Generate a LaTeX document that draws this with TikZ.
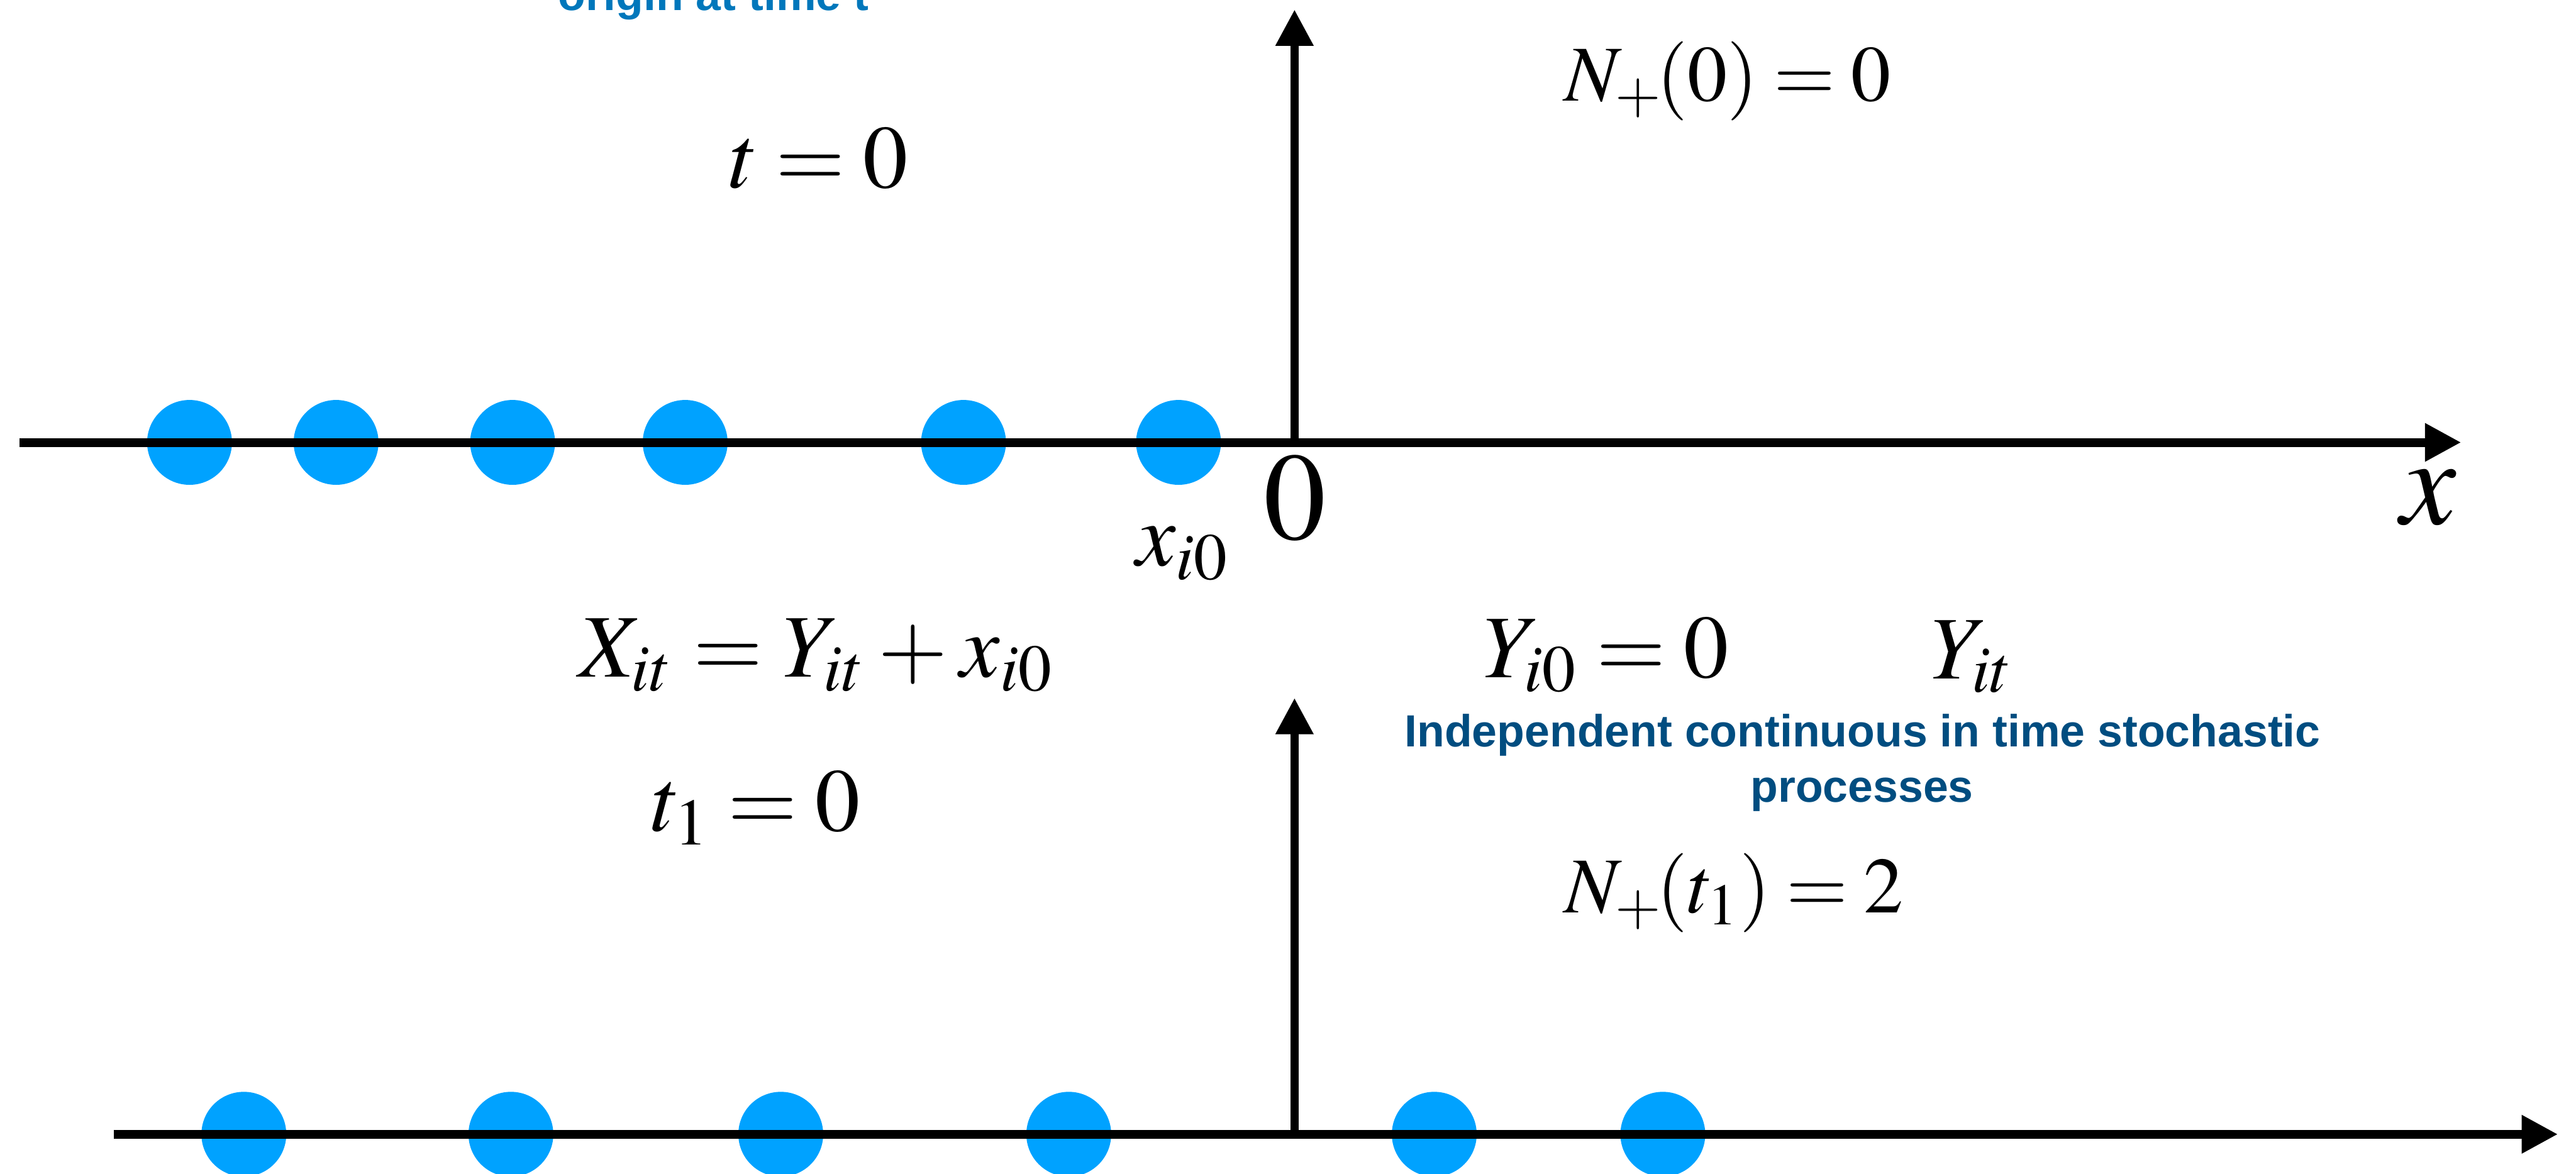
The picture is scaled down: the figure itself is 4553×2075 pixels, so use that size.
\documentclass[tikz,border=0pt]{standalone}
\usepackage{mathptmx}
\usepackage[no-math]{fontspec}
\newfontfamily\lsans{Liberation Sans}
\usetikzlibrary{arrows.meta}
\definecolor{dotblue}{HTML}{00A2FF}
\definecolor{topblue}{HTML}{0077BB}
\definecolor{darkblue}{HTML}{004D80}
\newcommand{\tightrel}{\thickmuskip=3.6mu plus 2mu}
\begin{document}
\begin{tikzpicture}[x=0.1pt,y=-0.1pt,
  dot/.style={circle, fill=dotblue, draw=none, minimum size=15pt, inner sep=0pt},
  haxis/.style={line width=1.55pt, -{Triangle[length=6.4pt,width=6.4pt]}},
  vaxis/.style={line width=1.4pt, -{Triangle[length=6.4pt,width=6.4pt]}},
  lbl/.style={inner sep=0pt, anchor=base west},
  mathM/.style={lbl, font=\fontsize{15.8}{19}\selectfont},
  mathT/.style={lbl, font=\fontsize{15.8}{19}\selectfont\tightrel},
  mathN/.style={lbl, font=\fontsize{14}{17}\selectfont\tightrel},
  bigl/.style={lbl, font=\fontsize{22}{26}\selectfont},
  bluetext/.style={inner sep=0pt, anchor=base, text=darkblue, font=\lsans\bfseries\fontsize{7.96}{9.8}\selectfont},
  toptext/.style={lbl, text=topblue, font=\lsans\bfseries\fontsize{7.96}{9.8}\selectfont}]
\path[use as bounding box, clip] (0,0) rectangle (4553,2075);

% top row dots
\foreach \i/\x in {1/335,2/594,3/906,4/1211,5/1703,6/2083}
  \node[dot] (ta\i) at (\x,782) {};
% bottom row dots
\foreach \i/\x in {1/431,2/903,3/1380,4/1889,5/2535,6/2939}
  \node[dot] (ba\i) at (\x,2005) {};

% axes
\coordinate (h1s) at (34,782);
\coordinate (h1e) at (4350,782);
\coordinate (v1s) at (2288,782);
\coordinate (v1e) at (2288,17);
\coordinate (h2s) at (201,2005);
\coordinate (h2e) at (4521,2005);
\coordinate (v2s) at (2288,2005);
\coordinate (v2e) at (2288,1234);
\draw[vaxis] (v1s) -- (v1e);
\draw[vaxis] (v2s) -- (v2e);
\draw[haxis] (h1s) -- (h1e);
\draw[haxis] (h2s) -- (h2e);

% labels
\node[toptext] (orig) at (985,18) {origin at time t};
\node[mathT] (t0) at (1287,332) {$t=0$};
\node[mathN] (n0) at (2763,178) {$N_+\mkern-1.5mu(0)=0$};
\node[bigl, anchor=base] (zero) at (2289,953) {$0$};
\node[bigl] (xl) at (4241,927) {$x$};
\node[mathM] (xi0) at (2006,1000) {$x_{i0}$};
\node[mathM] (Xit) at (1021,1197) {$X_{it}=Y_{it}+x_{i0}$};
\node[mathT] (Yi0) at (2620,1198) {$Y_{i0}=0$};
\node[mathM] (Yit) at (3411,1200) {$Y_{it}$};
\node[mathT] (t1) at (1150,1469) {$t_1=0$};
\node[mathN] (n1) at (2763,1613) {$N_+\mkern-1.5mu(t_1)=2$};
\node[bluetext] (ind) at (3292,1320) {Independent continuous in time stochastic};
\node[bluetext] (proc) at (3291,1418) {processes};
\end{tikzpicture}
\end{document}
